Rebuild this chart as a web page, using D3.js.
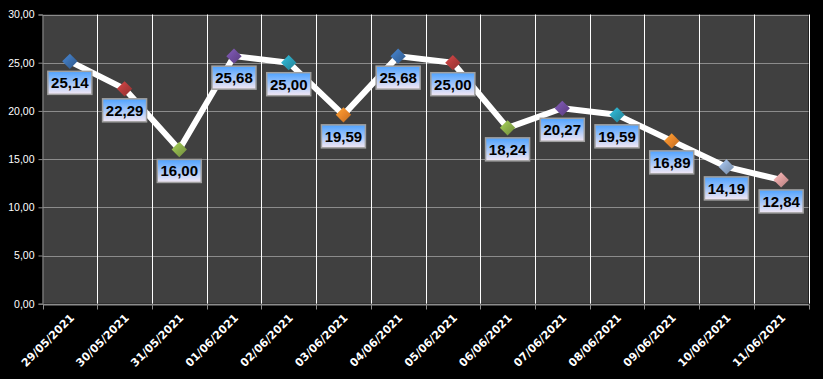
<!DOCTYPE html>
<html><head><meta charset="utf-8">
<script src="https://cdn.jsdelivr.net/npm/d3@7"></script>
<style>
html,body{margin:0;padding:0;background:#000;}
svg{display:block;}
</style></head>
<body>
<svg id="chart" width="823" height="379"></svg>
<script>
const categories = ["29/05/2021","30/05/2021","31/05/2021","01/06/2021","02/06/2021","03/06/2021","04/06/2021","05/06/2021","06/06/2021","07/06/2021","08/06/2021","09/06/2021","10/06/2021","11/06/2021"];
const values = [25.14,22.29,16.00,25.68,25.00,19.59,25.68,25.00,18.24,20.27,19.59,16.89,14.19,12.84];
const markerColors = ["#3b6fae","#b23b3b","#8bae4a","#6e4c9c","#2a9fb8","#e8862a","#3b6fae","#b23b3b","#8bae4a","#6e4c9c","#2a9fb8","#e8862a","#8fa9cc","#dc9c9c"];
const yTicks = [0,5,10,15,20,25,30];

const svg = d3.select("#chart");
const m = {left:42.5, right:808.5, top:14.5, bottom:303.7};
const x = d3.scaleBand().domain(categories).range([m.left, m.right]);
const y = d3.scaleLinear().domain([0,30]).range([m.bottom, m.top]);
const fmt = v => d3.format(".2f")(v).replace(".", ",");

const defs = svg.append("defs");
const lg = defs.append("linearGradient").attr("id","lblGrad").attr("x1",0).attr("y1",0).attr("x2",0).attr("y2",1);
lg.append("stop").attr("offset","0%").attr("stop-color","#4ea2ff");
lg.append("stop").attr("offset","100%").attr("stop-color","#f4e8f4");
markerColors.forEach((c,i)=>{
  const g = defs.append("linearGradient").attr("id","mk"+i).attr("x1",0).attr("y1",0).attr("x2",1).attr("y2",1);
  g.append("stop").attr("offset","0%").attr("stop-color", d3.color(c).brighter(0.6));
  g.append("stop").attr("offset","50%").attr("stop-color", c);
  g.append("stop").attr("offset","100%").attr("stop-color", d3.color(c).darker(0.6));
});

// plot background
svg.append("rect").attr("x",m.left).attr("y",m.top).attr("width",m.right-m.left).attr("height",m.bottom-m.top).attr("fill","#404040");

// horizontal gridlines
svg.append("g").selectAll("line").data(yTicks).join("line")
  .attr("x1",m.left).attr("x2",m.right)
  .attr("y1",d=>Math.round(y(d))+0.5).attr("y2",d=>Math.round(y(d))+0.5)
  .attr("stroke","#8c8c8c").attr("stroke-width",1);

// vertical gridlines at category boundaries
const bounds = categories.map(c=>x(c)).concat([m.right]).slice(1);
svg.append("g").selectAll("line").data(bounds).join("line")
  .attr("x1",d=>Math.round(d)+0.5).attr("x2",d=>Math.round(d)+0.5)
  .attr("y1",m.top).attr("y2",m.bottom)
  .attr("stroke","#ffffff").attr("stroke-width",1);

// y axis
const yAxis = d3.axisLeft(y).tickValues(yTicks).tickFormat(fmt).tickSize(4).tickPadding(4);
const gy = svg.append("g").attr("transform",`translate(${m.left},0)`).call(yAxis);
gy.select(".domain").attr("stroke","#8c8c8c");
gy.selectAll(".tick line").attr("stroke","#8c8c8c");
gy.selectAll("text").attr("fill","#fff").attr("font-family","Liberation Sans, Arial, sans-serif").attr("font-size","10.5px");

// x axis
const xAxis = d3.axisBottom(x).tickSize(0).tickFormat(d=>d);
const gx = svg.append("g").attr("transform",`translate(0,${Math.round(m.bottom)+0.5})`).call(xAxis);
gx.select(".domain").attr("stroke","#8c8c8c");
gx.selectAll(".tick text")
  .attr("fill","#fff").attr("font-family","DejaVu Sans, Verdana, sans-serif").attr("font-weight","bold").attr("font-size","11px")
  .attr("text-anchor","end").attr("dy",null).attr("y",0)
  .attr("transform","translate(5,14) rotate(-45)");
// boundary tick marks
const tickPos = [m.left].concat(bounds);
gx.append("g").selectAll("line").data(tickPos).join("line")
  .attr("x1",d=>Math.round(d)+0.5).attr("x2",d=>Math.round(d)+0.5).attr("y1",0).attr("y2",5)
  .attr("stroke","#8c8c8c");

const cx = (d,i)=> x(categories[i]) + x.bandwidth()/2;
// line
svg.append("path").datum(values)
  .attr("d", d3.line().x((d,i)=>cx(d,i)).y(d=>y(d)))
  .attr("fill","none").attr("stroke","#fff").attr("stroke-width",6).attr("stroke-linejoin","round");

// markers
svg.append("g").selectAll("path").data(values).join("path")
  .attr("d", d3.symbol(d3.symbolDiamond2 || d3.symbolSquare, 150))
  .attr("transform",(d,i)=>`translate(${cx(d,i)},${y(d)})` + (d3.symbolDiamond2 ? "" : " rotate(45)"))
  .attr("fill",(d,i)=>`url(#mk${i})`);

// labels
const lbl = svg.append("g").selectAll("g").data(values).join("g")
  .attr("transform",(d,i)=>`translate(${cx(d,i)},${y(d)+10})`);
lbl.append("rect").attr("x",-22).attr("y",0).attr("width",44).attr("height",23)
  .attr("fill","url(#lblGrad)").attr("stroke","#a0a0a0").attr("stroke-width",1.5);
lbl.append("text").attr("x",0).attr("y",17).attr("text-anchor","middle")
  .attr("font-family","Liberation Sans, Arial, sans-serif").attr("font-weight","bold").attr("font-size","15px")
  .attr("fill","#000").text(d=>fmt(d));
</script>
</body></html>
